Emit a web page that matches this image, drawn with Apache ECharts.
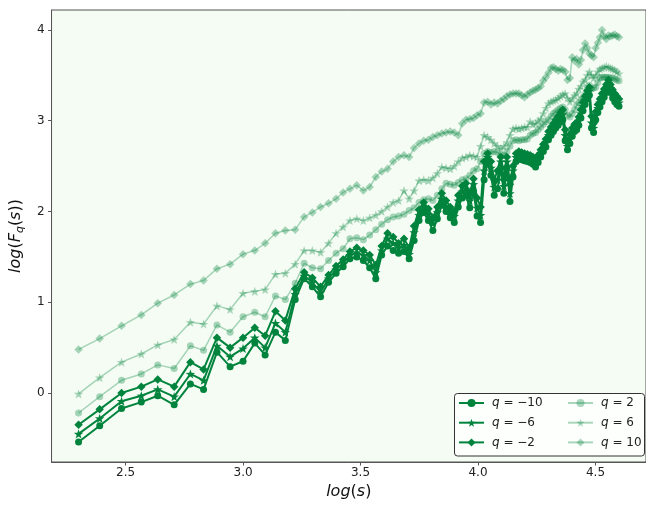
<!DOCTYPE html>
<html>
<head>
<meta charset="utf-8">
<script src="https://cdn.jsdelivr.net/npm/echarts@6/dist/echarts.min.js"></script>
<style>
  html, body { margin: 0; padding: 0; background: #ffffff; }
  #chart { width: 646px; height: 507px; }
</style>
</head>
<body>
<div id="chart"></div>
<script>
// Scale axis: log(s)
const logS = [
  2.300, 2.390, 2.483, 2.567, 2.637, 2.707, 2.776, 2.832, 2.889, 2.945,
  3.000, 3.050, 3.094, 3.138, 3.180, 3.222, 3.260, 3.295, 3.330, 3.364,
  3.396, 3.426, 3.455, 3.484, 3.512, 3.539, 3.565, 3.590, 3.615, 3.639,
  3.662, 3.685, 3.707, 3.728, 3.749, 3.769, 3.789, 3.808, 3.827, 3.846,
  3.864, 3.882, 3.899, 3.916, 3.933, 3.949, 3.965, 3.981, 3.996, 4.011,
  4.026, 4.041, 4.055, 4.069, 4.083, 4.097, 4.110, 4.123, 4.136, 4.149,
  4.162, 4.174, 4.186, 4.198, 4.210, 4.222, 4.234, 4.245, 4.256, 4.267,
  4.278, 4.289, 4.300, 4.311, 4.321, 4.331, 4.341, 4.351, 4.361, 4.371,
  4.381, 4.391, 4.401, 4.411, 4.420, 4.429, 4.438, 4.447, 4.456, 4.465,
  4.474, 4.483, 4.492, 4.501, 4.510, 4.519, 4.528, 4.537, 4.546, 4.555,
  4.564, 4.573, 4.582, 4.591, 4.600
];

// Moment orders q
const qValues = [-10, -6, -2, 2, 6, 10];

// log(F_q(s)) for each q
const fqM10 = [
  -0.54, -0.36, -0.17, -0.10, -0.03, -0.13, 0.10, 0.04, 0.45, 0.29,
  0.35, 0.55, 0.42, 0.67, 0.58, 1.03, 1.26, 1.17, 1.06, 1.22,
  1.32, 1.39, 1.48, 1.50, 1.46, 1.38, 1.26, 1.52, 1.62, 1.57,
  1.54, 1.56, 1.48, 1.68, 1.90, 1.99, 1.90, 1.79, 1.92, 2.07,
  2.00, 1.93, 1.88, 2.05, 2.15, 2.18, 2.04, 2.22, 1.95, 1.88,
  2.35, 2.55, 2.40, 2.18, 2.25, 2.48, 2.20, 2.48, 2.11, 2.38,
  2.55, 2.58, 2.57, 2.56, 2.55, 2.54, 2.52, 2.49, 2.54, 2.60,
  2.66, 2.71, 2.79, 2.84, 2.88, 2.92, 2.95, 2.99, 3.01, 2.78,
  2.68, 2.75, 2.83, 2.88, 2.90, 2.95, 3.03, 3.11, 3.18, 3.24,
  3.28, 2.92, 2.87, 3.01, 3.09, 3.15, 3.21, 3.26, 3.31, 3.36,
  3.31, 3.25, 3.21, 3.18, 3.16
];
const fqM6 = [
  -0.45, -0.28, -0.09, -0.03, 0.04, -0.04, 0.21, 0.14, 0.52, 0.40,
  0.49, 0.61, 0.50, 0.77, 0.67, 1.09, 1.29, 1.22, 1.11, 1.26,
  1.36, 1.43, 1.52, 1.55, 1.52, 1.46, 1.33, 1.57, 1.70, 1.65,
  1.60, 1.63, 1.53, 1.77, 1.96, 2.05, 1.97, 1.87, 1.99, 2.14,
  2.06, 1.99, 1.95, 2.12, 2.22, 2.25, 2.12, 2.30, 2.04, 1.96,
  2.45, 2.60, 2.48, 2.27, 2.35, 2.55, 2.28, 2.55, 2.20, 2.45,
  2.60, 2.62, 2.62, 2.60, 2.60, 2.59, 2.56, 2.53, 2.58, 2.64,
  2.70, 2.76, 2.84, 2.89, 2.93, 2.97, 3.01, 3.04, 3.07, 2.84,
  2.72, 2.80, 2.88, 2.92, 2.94, 3.00, 3.08, 3.16, 3.23, 3.29,
  3.33, 2.98, 2.92, 3.06, 3.14, 3.20, 3.26, 3.31, 3.36, 3.41,
  3.36, 3.30, 3.26, 3.23, 3.20
];
const fqM2 = [
  -0.35, -0.18, 0.00, 0.07, 0.15, 0.07, 0.34, 0.26, 0.61, 0.50,
  0.61, 0.72, 0.63, 0.90, 0.80, 1.15, 1.33, 1.27, 1.17, 1.30,
  1.40, 1.47, 1.56, 1.60, 1.57, 1.52, 1.41, 1.62, 1.76, 1.72,
  1.65, 1.70, 1.60, 1.84, 2.02, 2.10, 2.03, 1.93, 2.05, 2.20,
  2.12, 2.05, 2.00, 2.18, 2.28, 2.31, 2.20, 2.36, 2.15, 2.05,
  2.55, 2.64, 2.55, 2.35, 2.45, 2.60, 2.35, 2.60, 2.30, 2.50,
  2.64, 2.66, 2.65, 2.64, 2.63, 2.62, 2.60, 2.58, 2.62, 2.68,
  2.74, 2.80, 2.88, 2.93, 2.97, 3.01, 3.05, 3.09, 3.12, 2.90,
  2.78, 2.85, 2.92, 2.96, 2.98, 3.04, 3.12, 3.20, 3.27, 3.33,
  3.37, 3.05, 2.97, 3.10, 3.18, 3.24, 3.30, 3.35, 3.40, 3.45,
  3.40, 3.34, 3.30, 3.27, 3.24
];
const fqP2 = [
  -0.22, -0.04, 0.14, 0.21, 0.31, 0.27, 0.52, 0.47, 0.75, 0.67,
  0.84, 0.89, 0.84, 1.07, 1.03, 1.21, 1.43, 1.38, 1.37, 1.46,
  1.54, 1.59, 1.70, 1.71, 1.69, 1.74, 1.80, 1.86, 1.91, 1.94,
  1.95, 1.97, 2.01, 2.04, 2.10, 2.13, 2.14, 2.12, 2.18, 2.25,
  2.31, 2.30, 2.29, 2.32, 2.35, 2.36, 2.40, 2.45, 2.47, 2.55,
  2.64, 2.66, 2.65, 2.66, 2.65, 2.62, 2.62, 2.66, 2.72, 2.78,
  2.79, 2.78, 2.79, 2.79, 2.80, 2.84, 2.86, 2.87, 2.90, 2.93,
  2.96, 2.99, 3.01, 3.05, 3.08, 3.10, 3.12, 3.14, 3.15, 3.12,
  3.06, 3.04, 3.08, 3.12, 3.17, 3.20, 3.23, 3.26, 3.29, 3.36,
  3.39, 3.35, 3.36, 3.37, 3.42, 3.47, 3.48, 3.48, 3.48, 3.48,
  3.47, 3.47, 3.46, 3.45, 3.44
];
const fqP6 = [
  -0.01, 0.17, 0.34, 0.43, 0.53, 0.59, 0.78, 0.76, 0.96, 0.92,
  1.10, 1.12, 1.14, 1.31, 1.32, 1.42, 1.57, 1.57, 1.55, 1.65,
  1.76, 1.83, 1.90, 1.92, 1.90, 1.93, 1.96, 2.00, 2.05, 2.10,
  2.12, 2.23, 2.14, 2.23, 2.34, 2.35, 2.34, 2.37, 2.42, 2.49,
  2.48, 2.47, 2.50, 2.55, 2.59, 2.60, 2.62, 2.61, 2.60, 2.72,
  2.84, 2.82, 2.79, 2.75, 2.72, 2.69, 2.72, 2.76, 2.84, 2.91,
  2.92, 2.91, 2.92, 2.93, 2.93, 2.99, 2.96, 2.97, 3.00, 3.02,
  3.08, 3.14, 3.19, 3.21, 3.22, 3.23, 3.25, 3.27, 3.29, 3.30,
  3.25, 3.21, 3.24, 3.28, 3.30, 3.35, 3.38, 3.43, 3.45, 3.50,
  3.54, 3.50, 3.47, 3.50, 3.54, 3.57, 3.58, 3.59, 3.60, 3.59,
  3.58, 3.57, 3.56, 3.54, 3.52
];
const fqP10 = [
  0.48, 0.60, 0.74, 0.86, 0.99, 1.08, 1.20, 1.24, 1.37, 1.42,
  1.53, 1.57, 1.65, 1.76, 1.79, 1.80, 1.94, 1.99, 2.05, 2.09,
  2.14, 2.21, 2.25, 2.29, 2.23, 2.27, 2.38, 2.44, 2.47, 2.55,
  2.60, 2.62, 2.60, 2.70, 2.75, 2.78, 2.79, 2.82, 2.84, 2.86,
  2.87, 2.88, 2.87, 2.84, 2.97, 3.01, 3.02, 3.03, 3.06, 3.08,
  3.20, 3.21, 3.18, 3.20, 3.19, 3.22, 3.24, 3.27, 3.29, 3.30,
  3.30, 3.30, 3.28, 3.26, 3.29, 3.31, 3.33, 3.34, 3.36, 3.38,
  3.44, 3.48, 3.53, 3.58, 3.59, 3.57, 3.55, 3.57, 3.56, 3.54,
  3.45, 3.47, 3.70, 3.66, 3.68, 3.62, 3.67, 3.78, 3.85, 3.80,
  3.74, 3.72, 3.70, 3.80, 3.86, 3.92, 4.00, 3.93, 3.90, 3.94,
  3.93, 3.94, 3.95, 3.93, 3.92
];

// Tick positions
const xTicks = [2.5, 3.0, 3.5, 4.0, 4.5];
const yTicks = [0, 1, 2, 3, 4];

const GREEN = '#00843d';
const LIGHT_ALPHA = 0.33;
const FONT = 'DejaVu Sans';
const STAR = 'path://M0,-10L2.35,-3.24L9.51,-3.09L3.8,1.24L5.88,8.09L0,4.2L-5.88,8.09L-3.8,1.24L-9.51,-3.09L-2.35,-3.24Z';

const fqSeries = [fqM10, fqM6, fqM2, fqP2, fqP6, fqP10];
const markers = ['circle', STAR, 'diamond', 'circle', STAR, 'diamond'];
const markerSizes = [7, 9.5, 8.5, 7, 9.5, 8.5];

const qName = q => 'q = ' + (q < 0 ? '\u2212' + (-q) : String(q));
const names = qValues.map(qName);
const isLight = i => qValues[i] > 0;

const series = fqSeries.map((vals, i) => ({
  name: names[i],
  type: 'line',
  data: logS.map((x, j) => [x, vals[j]]),
  symbol: markers[i],
  symbolSize: markerSizes[i],
  symbolKeepAspect: true,
  showAllSymbol: true,
  lineStyle: { color: GREEN, width: isLight(i) ? 1.5 : 2, opacity: isLight(i) ? LIGHT_ALPHA : 1 },
  itemStyle: { color: GREEN, opacity: isLight(i) ? LIGHT_ALPHA : 1 },
  emphasis: { disabled: true },
  animation: false
}));

const legendText = {
  fontFamily: FONT, fontSize: 12, color: '#222', lineHeight: 14,
  padding: [0, 0, 0, 3],
  rich: { i: { fontFamily: FONT, fontSize: 12, fontStyle: 'italic', color: '#222', lineHeight: 14 } }
};
const legendItems = (from, to) => names.slice(from, to).map((n, k) => {
  const i = from + k;
  return {
    name: n,
    itemStyle: { opacity: isLight(i) ? LIGHT_ALPHA : 1 },
    lineStyle: { opacity: isLight(i) ? LIGHT_ALPHA : 1 }
  };
});
const legendBase = {
  orient: 'vertical', top: 396, padding: 0,
  itemWidth: 25, itemHeight: 10, itemGap: 5.7,
  selectedMode: false, textStyle: legendText,
  formatter: n => n.replace('q', '{i|q}')
};

const axisNameRich = {
  it: { fontFamily: FONT, fontSize: 16, fontStyle: 'italic', color: '#111', lineHeight: 20 },
  n: { fontFamily: FONT, fontSize: 16, color: '#111', lineHeight: 20 },
  sub: { fontFamily: FONT, fontSize: 11, fontStyle: 'italic', color: '#111', lineHeight: 11, verticalAlign: 'bottom' }
};

const chart = echarts.init(document.getElementById('chart'), null, { renderer: 'canvas' });
chart.setOption({
  animation: false,
  backgroundColor: '#ffffff',
  grid: {
    left: 47, top: 10, width: 602, height: 452,
    show: true, backgroundColor: '#f5fcf3', borderColor: '#555', borderWidth: 1
  },
  xAxis: {
    type: 'value', min: 2.185, max: 4.715,
    axisLine: { show: true, onZero: false, lineStyle: { color: '#555', width: 1 } },
    splitLine: { show: false },
    axisTick: { show: true, length: 3.5, customValues: xTicks, lineStyle: { color: '#555' } },
    axisLabel: {
      customValues: xTicks, formatter: v => v.toFixed(1),
      fontFamily: FONT, fontSize: 12, color: '#222', margin: 5
    },
    name: '{it|log}{n|(}{it|s}{n|)}',
    nameLocation: 'middle', nameGap: 20,
    nameTextStyle: { rich: axisNameRich }
  },
  yAxis: {
    type: 'value', min: -0.76, max: 4.22,
    axisLine: { show: true, onZero: false, lineStyle: { color: '#555', width: 1 } },
    splitLine: { show: false },
    axisTick: { show: true, length: 3.5, customValues: yTicks, lineStyle: { color: '#555' } },
    axisLabel: {
      customValues: yTicks, formatter: v => String(v),
      fontFamily: FONT, fontSize: 12, color: '#222', margin: 7
    },
    name: '{it|log}{n|(}{it|F}{sub|q}{n|(}{it|s}{n|))}',
    nameLocation: 'middle', nameGap: 18,
    nameTextStyle: { rich: axisNameRich }
  },
  legend: [
    Object.assign({}, legendBase, { left: 458, data: legendItems(0, 3) }),
    Object.assign({}, legendBase, { left: 567, data: legendItems(3, 6) })
  ],
  graphic: [{
    type: 'rect', z: 3,
    shape: { x: 454.5, y: 393.5, width: 190, height: 62.5, r: 3 },
    style: { fill: 'rgba(255,255,255,0.8)', stroke: '#333', lineWidth: 1 }
  }],
  series: series
});
</script>
</body>
</html>
